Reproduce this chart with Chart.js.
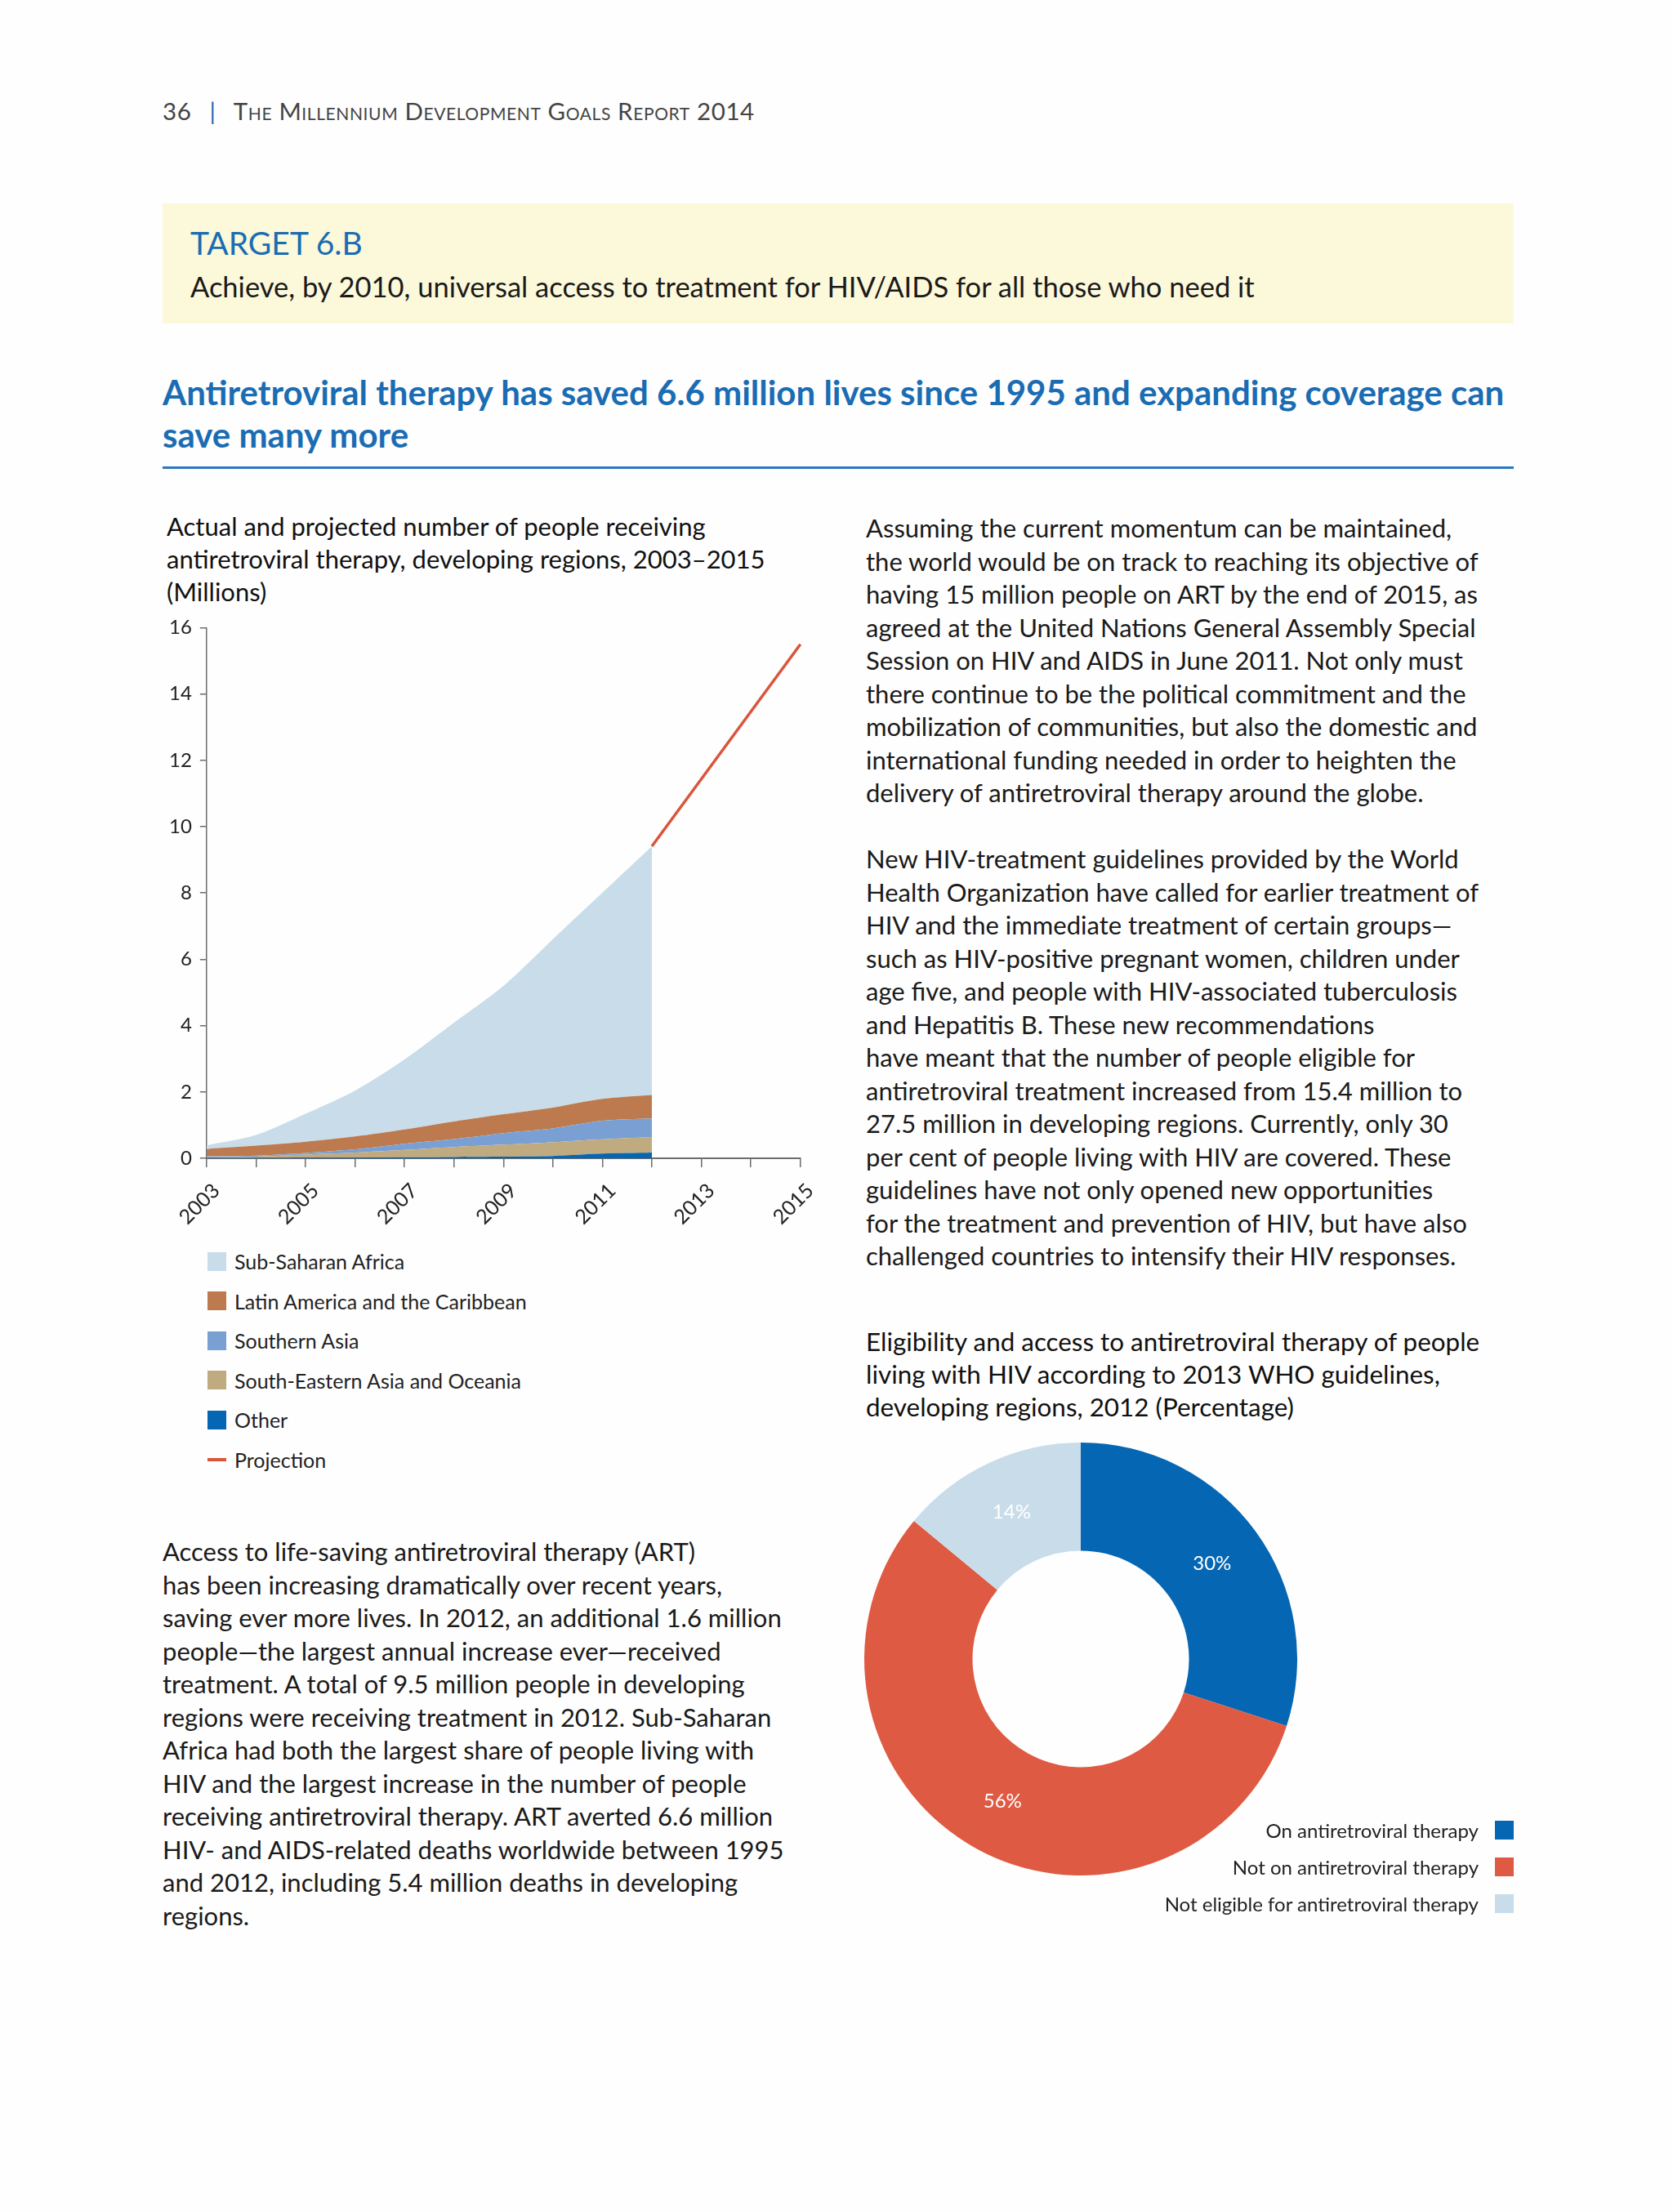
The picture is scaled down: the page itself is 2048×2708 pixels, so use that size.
<!DOCTYPE html>
<html>
<head>
<meta charset="utf-8">
<script src="https://cdn.jsdelivr.net/npm/chart.js@4.4.0/dist/chart.umd.min.js"></script>
<style>
  body { margin: 0; width: 2048px; height: 2708px; background: #fefefe; position: relative; font-family: Lato, "Noto Sans", sans-serif; color: #1a1a1a; overflow: hidden; }
  .abs { position: absolute; white-space: nowrap; }
  .para div { height: 40.5px; line-height: 40.5px; }
  .legend-row { display: flex; align-items: center; height: 48.5px; }
  .sw { width: 23px; height: 23px; margin-right: 10px; }
  .dl-row { display: flex; align-items: center; justify-content: flex-end; height: 45px; }
</style>
</head>
<body>

<div class="abs" style="left:199px; top:118px; font-size:29.5px; color:#444; font-variant:small-caps; letter-spacing:0.6px;">
  36 <span style="color:#1a6cb3; margin:0 14px;">|</span> The Millennium Development Goals Report 2014
</div>

<div class="abs" style="left:199px; top:249px; width:1654px; height:147px; background:#fcf8da;"></div>
<div class="abs" style="left:233px; top:274px; font-size:39px; color:#1a6cb3;">TARGET 6.B</div>
<div class="abs" style="left:233px; top:330px; font-size:34.5px; color:#1a1a1a;">Achieve, by 2010, universal access to treatment for HIV/AIDS for all those who need it</div>

<div class="abs" style="left:199px; top:454px; font-size:42px; font-weight:bold; color:#1a6cb3; line-height:52px;">
  Antiretroviral therapy has saved 6.6 million lives since 1995 and expanding coverage can<br>save many more
</div>
<div class="abs" style="left:199px; top:571px; width:1654px; height:3px; background:#2a78bf;"></div>

<div class="abs" style="left:204px; top:624px; font-size:31px; line-height:40px; color:#111;">
  Actual and projected number of people receiving<br>antiretroviral therapy, developing regions, 2003–2015<br>(Millions)
</div>

<div class="abs" style="left:190px; top:744px; width:825px; height:766px;">
  <canvas id="areaChart"></canvas>
</div>

<div class="abs" id="areaLegend" style="left:254px; top:1520px; font-size:25px; color:#222;"></div>

<div class="abs para" style="left:199px; top:1879px; font-size:31px;">
  <div>Access to life-saving antiretroviral therapy (ART)</div>
  <div>has been increasing dramatically over recent years,</div>
  <div>saving ever more lives. In 2012, an additional 1.6 million</div>
  <div>people—the largest annual increase ever—received</div>
  <div>treatment. A total of 9.5 million people in developing</div>
  <div>regions were receiving treatment in 2012. Sub-Saharan</div>
  <div>Africa had both the largest share of people living with</div>
  <div>HIV and the largest increase in the number of people</div>
  <div>receiving antiretroviral therapy. ART averted 6.6 million</div>
  <div>HIV- and AIDS-related deaths worldwide between 1995</div>
  <div>and 2012, including 5.4 million deaths in developing</div>
  <div>regions.</div>
</div>

<div class="abs para" style="left:1060px; top:626px; font-size:31px;">
  <div>Assuming the current momentum can be maintained,</div>
  <div>the world would be on track to reaching its objective of</div>
  <div>having 15 million people on ART by the end of 2015, as</div>
  <div>agreed at the United Nations General Assembly Special</div>
  <div>Session on HIV and AIDS in June 2011. Not only must</div>
  <div>there continue to be the political commitment and the</div>
  <div>mobilization of communities, but also the domestic and</div>
  <div>international funding needed in order to heighten the</div>
  <div>delivery of antiretroviral therapy around the globe.</div>
</div>

<div class="abs para" style="left:1060px; top:1031px; font-size:31px;">
  <div>New HIV-treatment guidelines provided by the World</div>
  <div>Health Organization have called for earlier treatment of</div>
  <div>HIV and the immediate treatment of certain groups—</div>
  <div>such as HIV-positive pregnant women, children under</div>
  <div>age five, and people with HIV-associated tuberculosis</div>
  <div>and Hepatitis B. These new recommendations</div>
  <div>have meant that the number of people eligible for</div>
  <div>antiretroviral treatment increased from 15.4 million to</div>
  <div>27.5 million in developing regions. Currently, only 30</div>
  <div>per cent of people living with HIV are covered. These</div>
  <div>guidelines have not only opened new opportunities</div>
  <div>for the treatment and prevention of HIV, but have also</div>
  <div>challenged countries to intensify their HIV responses.</div>
</div>

<div class="abs" style="left:1060px; top:1622px; font-size:31.4px; line-height:40px; color:#111;">
  Eligibility and access to antiretroviral therapy of people<br>living with HIV according to 2013 WHO guidelines,<br>developing regions, 2012 (Percentage)
</div>

<div class="abs" style="left:1058px; top:1766px; width:530px; height:530px;">
  <canvas id="donutChart"></canvas>
</div>

<div class="abs" id="donutLegend" style="left:1300px; top:2218px; width:553px; font-size:24px; color:#222;"></div>

<script>
const years = ["2003", "2004", "2005", "2006", "2007", "2008", "2009", "2010", "2011", "2012", "2013", "2014", "2015"]
// millions (2003-2012)
const other = [0.01, 0.01, 0.02, 0.02, 0.03, 0.04, 0.05, 0.07, 0.14, 0.17]
const seAsiaOceania = [0.02, 0.04, 0.09, 0.15, 0.22, 0.30, 0.36, 0.41, 0.43, 0.47]
const southernAsia = [0.03, 0.03, 0.05, 0.10, 0.19, 0.24, 0.35, 0.42, 0.56, 0.56]
const latinAmerica = [0.22, 0.30, 0.34, 0.39, 0.43, 0.53, 0.57, 0.63, 0.66, 0.71]
const subSaharan = [0.11, 0.32, 0.84, 1.38, 2.11, 2.98, 3.87, 5.08, 6.22, 7.50]
const projection = [null, null, null, null, null, null, null, null, null, 9.41, null, null, 15.5]
const yTicks = [0, 2, 4, 6, 8, 10, 12, 14, 16]

const donutLabels = ["On antiretroviral therapy", "Not on antiretroviral therapy", "Not eligible for antiretroviral therapy"]
const donutValues = [30, 56, 14]

const COLORS = {
  ssa: "#c8dcea",
  latam: "#bd7a4e",
  sasia: "#7aa0d3",
  seasia: "#bfab7f",
  other: "#0566b3",
  proj: "#d9553b",
  onArt: "#0566b3",
  notOnArt: "#df5a43",
  notEligible: "#c9dcea",
}

const areaSeries = [
  { label: "Other", data: other, color: COLORS.other },
  { label: "South-Eastern Asia and Oceania", data: seAsiaOceania, color: COLORS.seasia },
  { label: "Southern Asia", data: southernAsia, color: COLORS.sasia },
  { label: "Latin America and the Caribbean", data: latinAmerica, color: COLORS.latam },
  { label: "Sub-Saharan Africa", data: subSaharan, color: COLORS.ssa },
]

areaChart("areaChart")
donutChart("donutChart")

function areaChart(canvasId) {
  const datasets = areaSeries.map((s, i) => ({
    label: s.label,
    data: s.data,
    backgroundColor: s.color,
    borderColor: s.color,
    borderWidth: 0,
    pointRadius: 0,
    fill: i === 0 ? "origin" : "-1",
    tension: 0.3,
    stack: "regions",
  }))
  datasets.push({
    label: "Projection",
    data: projection,
    borderColor: COLORS.proj,
    borderWidth: 3.5,
    pointRadius: 0,
    fill: false,
    spanGaps: true,
    stack: "projection",
  })

  const tickFont = { family: "Lato, 'Noto Sans', sans-serif", size: 25 }
  new Chart(document.getElementById(canvasId), {
    type: "line",
    data: { labels: years, datasets: datasets },
    options: {
      responsive: true,
      maintainAspectRatio: false,
      animation: false,
      layout: { padding: { top: 18, right: 0, bottom: 0, left: 0 } },
      plugins: { legend: { display: false }, tooltip: { enabled: false } },
      scales: {
        x: {
          offset: false,
          border: { display: true, color: "#6d6d6d", width: 2 },
          grid: { drawOnChartArea: false, drawTicks: true, tickLength: 11, color: "#6d6d6d", lineWidth: 1.5 },
          ticks: {
            autoSkip: false,
            maxRotation: 45,
            minRotation: 45,
            color: "#222",
            font: tickFont,
            padding: 14,
            labelOffset: 12,
            callback: function (value, index) {
              return index % 2 === 0 ? years[index] : ""
            },
          },
          afterFit: function (scale) { scale.height = 92 },
        },
        y: {
          stacked: true,
          min: 0,
          max: 16,
          afterBuildTicks: function (scale) { scale.ticks = yTicks.map(v => ({ value: v })) },
          border: { display: true, color: "#6d6d6d", width: 1.5 },
          grid: { drawOnChartArea: false, drawTicks: true, tickLength: 8, color: "#6d6d6d", lineWidth: 1.5 },
          ticks: { color: "#222", font: { family: "Lato, 'Noto Sans', sans-serif", size: 24 }, padding: 10 },
          afterFit: function (scale) { scale.width = 62.8 },
        },
      },
    },
  })

  // legend, top of stack first, projection last
  const legend = document.getElementById("areaLegend")
  const items = areaSeries.slice().reverse()
  items.forEach(s => {
    legend.insertAdjacentHTML("beforeend",
      `<div class="legend-row"><div class="sw" style="background:${s.color}"></div>${s.label}</div>`)
  })
  legend.insertAdjacentHTML("beforeend",
    `<div class="legend-row"><div class="sw" style="height:3.5px;background:${COLORS.proj}"></div>Projection</div>`)
}

function donutChart(canvasId) {
  const colors = [COLORS.onArt, COLORS.notOnArt, COLORS.notEligible]
  const pctLabels = {
    id: "pctLabels",
    afterDatasetsDraw(chart) {
      const ctx = chart.ctx
      const meta = chart.getDatasetMeta(0)
      ctx.save()
      ctx.font = "24px Lato, 'Noto Sans', sans-serif"
      ctx.fillStyle = "#ffffff"
      ctx.textAlign = "center"
      ctx.textBaseline = "middle"
      meta.data.forEach((arc, i) => {
        const p = arc.getCenterPoint()
        ctx.fillText(donutValues[i] + "%", p.x, p.y)
      })
      ctx.restore()
    },
  }
  new Chart(document.getElementById(canvasId), {
    type: "doughnut",
    data: {
      labels: donutLabels,
      datasets: [{ data: donutValues, backgroundColor: colors, borderWidth: 0 }],
    },
    options: {
      responsive: true,
      maintainAspectRatio: false,
      animation: false,
      cutout: "50%",
      layout: { padding: 0 },
      plugins: { legend: { display: false }, tooltip: { enabled: false } },
    },
    plugins: [pctLabels],
  })

  const legend = document.getElementById("donutLegend")
  donutLabels.forEach((l, i) => {
    legend.insertAdjacentHTML("beforeend",
      `<div class="dl-row">${l}<div class="sw" style="margin:0 0 0 20px;background:${colors[i]}"></div></div>`)
  })
}
</script>
</body>
</html>
